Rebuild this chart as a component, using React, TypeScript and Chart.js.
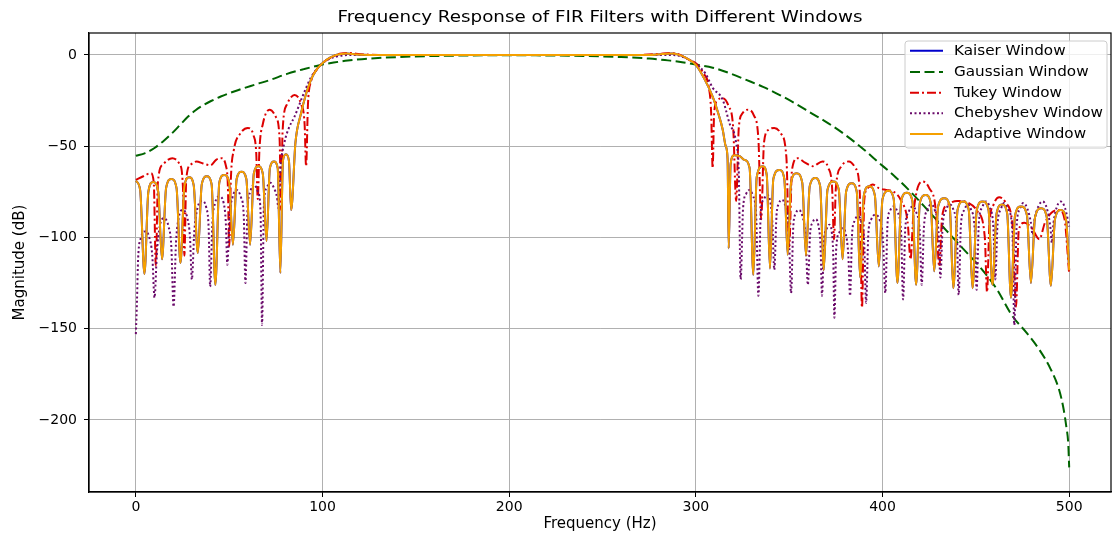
import React, { useEffect, useRef } from 'react';
import { Chart, registerables } from 'chart.js';

Chart.register(...registerables);

const TITLE = 'Frequency Response of FIR Filters with Different Windows';
const X_LABEL = 'Frequency (Hz)';
const Y_LABEL = 'Magnitude (dB)';
const xTicks = [0, 100, 200, 300, 400, 500];
const yTicks = [-200, -150, -100, -50, 0];
const seriesNames = ['Kaiser Window', 'Gaussian Window', 'Tukey Window', 'Chebyshev Window', 'Adaptive Window'];

// [frequency Hz, magnitude dB]
const adaptivePts: [number, number][] = [
  [0, -69], [2.3, -74], [4.6, -120], [6.7, -75], [9.3, -69.6], [12, -75], [14, -112], [16.2, -73], [19, -68], [21.8, -73],
  [23.9, -114], [26, -72], [28.5, -67], [31, -71.5], [33.2, -108.6], [35.3, -71], [38, -66.5], [40.6, -71], [42.6, -126],
  [44.7, -70], [47.3, -65.8], [50, -70], [52, -104], [54, -68], [56.6, -64], [59.2, -68], [61.2, -104], [63.2, -65],
  [65.6, -61], [68, -65], [70, -102], [71.8, -62], [74, -58.4], [76, -62], [77.4, -119.5], [78.8, -58], [80.4, -54.5],
  [82, -58], [83.2, -85], [85.5, -48], [88.5, -32], [91, -22], [93.8, -13.7], [96.5, -8.5], [99, -5.5], [102, -2.8],
  [106, -0.5], [110, 0.5], [113, 0.7], [118, 0.2], [125, 0], [200, 0], [275, 0], [282, 0.5], [287, 0.7], [291, 0],
  [295, -1.8], [300, -5.5], [304.5, -13], [309, -22.8], [312, -32], [314.4, -41], [316, -50], [317, -57], [317.6, -106],
  [318.6, -60], [320.5, -55], [323.5, -55.5], [326, -57.5], [328.8, -62], [330.8, -120.5],
  [332.6, -67], [335.8, -61], [338, -66], [339.7, -117], [341.5, -68], [344.8, -63], [347.4, -68], [349.2, -109.5],
  [351, -70], [353.9, -64.8], [357, -70], [359, -110], [361, -72], [364, -67.5], [366.6, -72], [368.5, -118],
  [370.5, -74], [373.7, -69.4], [376.6, -74], [378.6, -112], [380.5, -75], [383.5, -70.3], [386.2, -75], [388, -122],
  [390, -77], [392.8, -72], [395.9, -77], [398, -116], [400, -79], [403.2, -74.5], [406, -79], [408, -125],
  [410, -80], [413, -75.5], [416, -80], [418, -126], [420, -81], [423.1, -76.7], [425.8, -81], [427.7, -118.6],
  [429.8, -83], [433, -78.5], [436, -83], [437.9, -127.8], [440.2, -85], [443.1, -80.3], [446.2, -85], [448.2, -127.8],
  [450.5, -85], [453.6, -80.3], [456.8, -85], [458.9, -126], [461.1, -87], [464, -82], [466.8, -87], [468.8, -133],
  [471, -88], [474.2, -83], [477.4, -88], [479.5, -125], [481.7, -89], [485, -84], [488, -89], [490.2, -126.5],
  [492.4, -90], [495.5, -85], [498.4, -91], [500, -118],
];

// Kaiser response lies underneath the adaptive one
const kaiserPts: [number, number][] = adaptivePts;

const gaussianPts: [number, number][] = [
  [0, -55.3], [5, -53.8], [10, -51], [15, -47], [20, -42.3], [24, -38], [28, -33.8], [32, -30.3], [36, -27.6],
  [40, -25.4], [45.5, -22.8], [55, -19.2], [63.5, -16.4], [72, -13.7], [81, -10.4], [90, -7.8], [99, -5.5],
  [106, -4.2], [113.5, -3.1], [125, -2], [140, -1.2], [160, -0.6], [180, -0.3], [200, -0.2], [220, -0.3], [240, -0.6],
  [260, -1.2], [275, -2], [285, -3], [291, -3.7], [300, -5.3], [309, -7], [318, -10], [327, -13.7], [336, -17.5],
  [345, -22], [353, -26.5], [362, -32], [371, -37.5], [380, -43.8], [389, -51], [398, -59], [407, -67], [416, -76],
  [425, -86], [434, -96], [443, -106], [452, -116], [461, -128], [469.5, -143], [477, -152], [484, -161.5],
  [490, -172], [494.6, -183.5], [497, -194], [498.5, -204], [499.5, -213], [500, -226],
];

const tukeyPts: [number, number][] = [
  [0, -68.5], [4, -66.5], [8, -64.8], [9.6, -70], [10.7, -116], [11.8, -70], [14.5, -60], [19.5, -56.6], [23.5, -60],
  [25.2, -72], [26, -110], [27, -68], [29.5, -60], [32.5, -58.4], [36, -59.5], [40, -60.5], [43, -57.5], [45.7, -56.6],
  [48.3, -61], [49.3, -72], [50, -105], [50.9, -68], [52.5, -52], [56, -43], [60, -40], [63, -44], [64.5, -54],
  [65.3, -79], [66.2, -52], [68, -38], [71.6, -30], [75, -34], [77, -46], [77.8, -85], [78.6, -42], [81, -27], [85, -22],
  [88.5, -27], [90.4, -38], [91.2, -61], [92.2, -27], [94, -14], [97, -8], [100, -4.5], [104, -1.8], [110, 0.8],
  [115, 1], [120, 0.4], [130, 0], [200, 0], [270, 0], [280, 0.5], [286, 1], [291, 0.3], [296, -2.5], [300, -4.6],
  [304, -10], [306.8, -17], [308.2, -32], [309, -62], [309.8, -32], [311.5, -25], [314.4, -23.7], [317.5, -28],
  [320, -40], [321.6, -80], [323, -40], [325, -32], [328, -30], [331, -33], [333.5, -46], [335, -90], [336.5, -48],
  [339, -41], [342, -40], [345.5, -43], [348.5, -56], [350, -105], [351.5, -63], [354.5, -56.6], [358.5, -59],
  [362.6, -61], [367.8, -58.4], [371, -62], [373, -73], [374, -101], [375, -73], [378, -61], [382, -58.4], [385.5, -62],
  [387.8, -75], [389, -138.5], [390.2, -80], [392, -73], [394.7, -71], [398, -73], [402, -74], [406, -75], [410, -80],
  [413.5, -92], [415, -112], [416.5, -88], [418.5, -74], [421.5, -69.4], [425, -73], [428.5, -85], [430.4, -116],
  [432, -88], [435, -82], [440, -80], [446, -81], [451, -86], [454.8, -100], [456, -130], [457.2, -94], [459.5, -82],
  [462.5, -78], [466, -81], [469.8, -95], [471.5, -138], [473, -96], [476, -92], [480, -95], [484, -101], [487, -92],
  [490.5, -86.5], [494.6, -85], [497.5, -90], [500, -120],
];

const chebyshevPts: [number, number][] = [
  [0, -153], [0.6, -135], [1.2, -112], [2.8, -100], [5, -96.7], [7.2, -100], [8.8, -110], [10, -133], [11.3, -108],
  [12.8, -94], [15, -89.5], [17.5, -94], [19, -105], [20.2, -138], [21.5, -103], [23, -89], [25, -85], [27.5, -89],
  [29, -100], [30, -123], [31.3, -97], [33, -84], [35.3, -80], [37.8, -84], [39, -95], [39.8, -127], [41, -92],
  [42.5, -81], [44.7, -77.6], [47, -81], [48.2, -92], [49, -115], [50.2, -88], [51.8, -78], [54, -74], [56.3, -78],
  [57.8, -88], [58.7, -125], [59.8, -85], [61.3, -75], [63.2, -71], [65.4, -75], [66.8, -86], [67.6, -148], [68.6, -82],
  [70, -73], [72, -70], [74, -73], [75.6, -78], [76.4, -84], [77.5, -62], [79.6, -48], [82, -40], [85, -33.8],
  [90, -21], [94, -12], [99, -5.5], [103, -2.5], [108, -0.8], [115, 0], [200, 0], [285, 0], [291, -0.5], [296, -2.5],
  [300, -5], [305, -10], [309, -18], [314.4, -24.6], [318, -37.4], [321.6, -48.4], [323, -65], [324, -123],
  [325.3, -84], [327, -76], [328.7, -74], [330.5, -77], [332.3, -88], [333.5, -132], [334.8, -86], [336.5, -79],
  [338, -76.7], [339.8, -80], [341, -92], [342, -117.7], [343.2, -88], [344.5, -81.5], [346, -79.4], [348, -83],
  [349.8, -96], [351, -130.5], [352.2, -94], [353.5, -87], [355, -85], [357, -88], [358.8, -100], [360, -126],
  [361.2, -98], [362.5, -92], [364, -90], [365.6, -93], [366.8, -105], [367.6, -132], [368.6, -102], [370.2, -95],
  [371.5, -93], [372.8, -97], [373.6, -110], [374.2, -144], [375.2, -106], [377, -97], [378.5, -95], [380.3, -98],
  [381.7, -110], [382.6, -132], [383.7, -98], [385, -91], [386.7, -88.5], [388.5, -91], [390.2, -103], [391.2, -136],
  [392.4, -98], [394, -90], [396, -87.6], [398.3, -90], [400.3, -102], [401.5, -130.5], [402.7, -92], [404, -85.5],
  [405.8, -83], [408, -86], [410, -98], [411, -134], [412.2, -95], [414, -86], [416, -83], [418, -86], [420, -98],
  [421, -126], [422.2, -94], [424, -85], [426, -82], [428, -85], [430, -97], [431, -122], [432.2, -94], [434, -85],
  [436, -82], [438, -85], [439.8, -97], [440.8, -131.5], [442, -93], [443.8, -85], [445.6, -82], [447.5, -85],
  [449.4, -96], [450.4, -128.7], [451.6, -92], [453.4, -83.5], [455.4, -80.3], [457.4, -83.5], [459.4, -95],
  [460.4, -123], [461.6, -93], [463.4, -84.5], [465.2, -81.2], [467.2, -84.5], [469.6, -97], [470.6, -148],
  [471.8, -95], [473.5, -84.5], [475.4, -81.2], [477.5, -84], [479.5, -92], [480.4, -98.6], [481.5, -90], [483.5, -83],
  [485.7, -80.3], [488, -84], [490, -95], [490.7, -103], [491.6, -92], [493.5, -83], [495.5, -80.3], [497.8, -84],
  [500, -94],
];

const FONT = 'DejaVu Sans';
const colors = ['#0000cc', '#006400', '#dd0000', '#6a0a6a', '#f5a000'];
const dashes: number[][] = [[], [10, 4.5], [9, 3, 2, 3], [2, 2.5], []];
const pointSets = [kaiserPts, gaussianPts, tukeyPts, chebyshevPts, adaptivePts];

const minusFmt = (v: number) => (v < 0 ? '\u2212' + Math.abs(v) : String(v));

// draw text stretched horizontally to a target width (the reference text is wide)
function wideText(ctx: CanvasRenderingContext2D, text: string, x: number, y: number, size: number, targetW: number, align: 'left' | 'center') {
  ctx.save();
  ctx.font = `${size}px "${FONT}"`;
  const w = ctx.measureText(text).width;
  const sx = w > 0 ? targetW / w : 1;
  ctx.translate(x, y);
  ctx.scale(sx, 1);
  ctx.textAlign = align;
  ctx.textBaseline = 'middle';
  ctx.fillStyle = '#000';
  ctx.fillText(text, 0, 0);
  ctx.restore();
}

const framePlugin = {
  id: 'frame',
  afterDatasetsDraw(chart: any) {
    const { ctx, chartArea: a } = chart;
    ctx.save();
    ctx.strokeStyle = '#000';
    ctx.lineWidth = 1.2;
    ctx.strokeRect(a.left, a.top, a.right - a.left, a.bottom - a.top);
    ctx.restore();
  },
};

const titlePlugin = {
  id: 'mplTitle',
  afterDraw(chart: any) {
    const { ctx, chartArea: a } = chart;
    wideText(ctx, TITLE, (a.left + a.right) / 2, 18, 16, 525, 'center');
  },
};

const legendPlugin = {
  id: 'mplLegend',
  afterDraw(chart: any) {
    const { ctx } = chart;
    const bx = 905, by = 41, bw = 202, bh = 107;
    ctx.save();
    ctx.beginPath();
    const r = 3;
    ctx.moveTo(bx + r, by);
    ctx.lineTo(bx + bw - r, by);
    ctx.quadraticCurveTo(bx + bw, by, bx + bw, by + r);
    ctx.lineTo(bx + bw, by + bh - r);
    ctx.quadraticCurveTo(bx + bw, by + bh, bx + bw - r, by + bh);
    ctx.lineTo(bx + r, by + bh);
    ctx.quadraticCurveTo(bx, by + bh, bx, by + bh - r);
    ctx.lineTo(bx, by + r);
    ctx.quadraticCurveTo(bx, by, bx + r, by);
    ctx.closePath();
    ctx.fillStyle = 'rgba(255,255,255,0.8)';
    ctx.fill();
    ctx.strokeStyle = '#cccccc';
    ctx.lineWidth = 1;
    ctx.stroke();
    const rows = [50.7, 72, 92.7, 113.3, 134];
    ctx.font = `14px "${FONT}"`;
    const refW = ctx.measureText('Chebyshev Window').width;
    const scale = 149 / refW;
    seriesNames.forEach((name, i) => {
      const y = rows[i];
      ctx.beginPath();
      ctx.setLineDash(dashes[i]);
      ctx.strokeStyle = colors[i];
      ctx.lineWidth = 2;
      ctx.moveTo(910, y);
      ctx.lineTo(943, y);
      ctx.stroke();
      ctx.setLineDash([]);
      ctx.font = `14px "${FONT}"`;
      const w = ctx.measureText(name).width;
      wideText(ctx, name, 954, y + 0.5, 14, w * scale, 'left');
    });
    ctx.restore();
  },
};

export default function App() {
  const ref = useRef<HTMLCanvasElement>(null);
  useEffect(() => {
    document.body.style.margin = '0';
    if (!ref.current) return;
    const datasets = seriesNames.map((name, i) => ({
      label: name,
      data: pointSets[i].map(([x, y]) => ({ x, y })),
      borderColor: colors[i],
      backgroundColor: colors[i],
      borderWidth: 2,
      borderDash: dashes[i],
      borderCapStyle: 'butt' as const,
      pointRadius: 0,
      fill: false,
      cubicInterpolationMode: 'monotone' as const,
      order: 5 - i,
    }));
    const tickFont = { family: FONT, size: 14 };
    const chart = new Chart(ref.current, {
      type: 'line',
      data: { datasets },
      options: {
        responsive: false,
        animation: false,
        events: [],
        layout: { padding: { top: 33, right: 2, left: 0, bottom: 0 } },
        plugins: {
          legend: { display: false },
          title: { display: false },
          tooltip: { enabled: false },
        },
        scales: {
          x: {
            type: 'linear',
            min: -25.1,
            max: 522.4,
            afterBuildTicks: (s: any) => {
              s.ticks = xTicks.map((v) => ({ value: v }));
            },
            afterFit: (s: any) => {
              s.height = 46;
            },
            ticks: {
              font: tickFont,
              color: '#000',
              padding: 2,
              maxRotation: 0,
              autoSkip: false,
              callback: (v: any) => minusFmt(Number(v)),
            },
            grid: { color: '#b0b0b0', lineWidth: 1, tickLength: 5, tickColor: '#000', drawTicks: true },
            border: { display: true, color: '#000', width: 1.2 },
            title: {
              display: true,
              text: X_LABEL,
              font: { family: FONT, size: 15 },
              color: '#000',
              padding: { top: 0, bottom: 5 },
            },
          },
          y: {
            type: 'linear',
            min: -239.5,
            max: 12,
            afterBuildTicks: (s: any) => {
              s.ticks = yTicks.map((v) => ({ value: v }));
            },
            afterFit: (s: any) => {
              s.width = 89;
            },
            ticks: {
              font: tickFont,
              color: '#000',
              padding: 7,
              autoSkip: false,
              callback: (v: any) => minusFmt(Number(v)),
            },
            grid: { color: '#b0b0b0', lineWidth: 1, tickLength: 5, tickColor: '#000', drawTicks: true },
            border: { display: true, color: '#000', width: 1.2 },
            title: {
              display: true,
              text: Y_LABEL,
              font: { family: FONT, size: 15 },
              color: '#000',
              padding: { top: 11, bottom: 0 },
            },
          },
        },
      },
      plugins: [framePlugin, titlePlugin, legendPlugin],
    } as any);
    return () => chart.destroy();
  }, []);
  return (
    <div style={{ width: 1113, height: 538 }}>
      <canvas ref={ref} width={1113} height={538} style={{ display: 'block' }} />
    </div>
  );
}
